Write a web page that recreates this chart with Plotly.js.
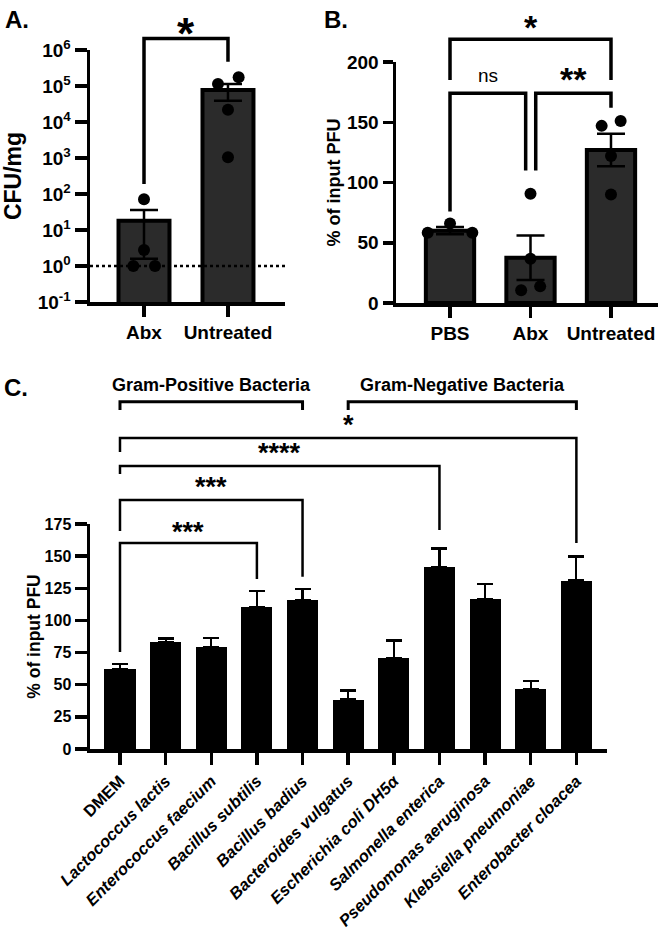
<!DOCTYPE html>
<html><head><meta charset="utf-8">
<script src="https://cdn.plot.ly/plotly-3.0.1.min.js"></script>
<style>html,body{margin:0;padding:0;background:#fff}</style>
</head><body><div id="chart" style="width:666px;height:932px"></div>
<script>
// ---------- Panel A data ----------
const catA = ['Abx', 'Untreated'];
const meanA = [18, 78000];
const errPlusA = [18, 36000];
const errMinusA = [16.4, 39000];
const ptsA = [[72, 2.8, 1, 1], [174000, 114000, 22000, 1050]];
const limitA = 1;
const tickValsA = [0.1, 1, 10, 100, 1000, 10000, 100000, 1000000];
const tickTextA = ['10<sup>-1</sup>', '10<sup>0</sup>', '10<sup>1</sup>', '10<sup>2</sup>', '10<sup>3</sup>', '10<sup>4</sup>', '10<sup>5</sup>', '10<sup>6</sup>'];
const sigA = [{from: 0, to: 1, top: 2.1e6, b0: 190, b1: 4.7e5, label: '*', labelY: 4.4e6}];

// ---------- Panel B data ----------
const catB = ['PBS', 'Abx', 'Untreated'];
const meanB = [60, 37.6, 127];
const semB = [3, 18.5, 13.5];
const ptsB = [[66, 58.3, 58.3], [90.7, 36.8, 10.5, 13.8], [147, 151, 122, 90]];
const sigB = [
  {from: 0, to: 2, top: 219, b0: 185, b1: 185, label: '*', labelY: 232},
  {from: 0, to: 0.94, top: 174, b0: 76, b1: 110, label: 'ns', labelY: 189},
  {from: 1.065, to: 2, top: 174, b0: 110, b1: 162, label: '**', labelY: 189}
];

// ---------- Panel C data ----------
const catC = ['DMEM', 'Lactococcus lactis', 'Enterococcus faecium', 'Bacillus subtilis', 'Bacillus badius',
  'Bacteroides vulgatus', 'Escherichia coli DH5α', 'Salmonella enterica', 'Pseudomonas aeruginosa',
  'Klebsiella pneumoniae', 'Enterobacter cloacea'];
const italicC = [false, true, true, true, true, true, true, true, true, true, true];
const meanC = [62, 83, 79, 110.5, 116, 38.5, 71, 141.5, 116.5, 46.5, 131];
const semC = [4.3, 2.9, 7.3, 12.1, 8.5, 7, 13.4, 14.5, 12, 6.4, 18.7];
const groupsC = [
  {label: 'Gram-Positive Bacteria', from: 0, to: 4, top: 270, leg: 263.7, labelY: 283},
  {label: 'Gram-Negative Bacteria', from: 5, to: 10, top: 270, leg: 263.7, labelY: 283}
];
const sigC = [
  {from: 0, to: 10, top: 241.9, b0: 231, b1: 160.2, label: '*', labelY: 253.6},
  {from: 0, to: 7, top: 220.1, b0: 213.9, b1: 170.3, label: '****', labelY: 231.8},
  {from: 0, to: 4, top: 193.7, b0: 169.6, b1: 134, label: '***', labelY: 206},
  {from: 0, to: 3, top: 160.2, b0: 75.4, b1: 132.2, label: '***', labelY: 171}
];

// ---------- styling / positions (not data) ----------
const jitA = [[0, 0, -0.127, 0.131], [0.127, -0.119, 0, 0]];
const jitB = [[0, -0.277, 0.277], [0, 0, -0.116, 0.12], [-0.116, 0.12, 0, 0]];
const W = 666, H = 932;
const fx = px => px / W, fy = px => 1 - px / H;
const FONT = 'Liberation Sans, Arial, Helvetica, sans-serif';
const idx = arr => arr.map((_, i) => i);
const rangeXA = [-0.643, 1.679];

const traces = [];
const annotations = [];

// detection-limit dotted line (drawn first, bars cover it)
traces.push({type: 'scatter', mode: 'lines', x: rangeXA, y: [limitA, limitA], xaxis: 'x', yaxis: 'y',
  line: {color: '#000', width: 2.5, dash: 'dot'}, hoverinfo: 'skip'});

function barPanel(cats, means, plus, minus, pts, jit, xa, ya, opts) {
  traces.push({
    type: 'bar', x: idx(cats), y: means, width: opts.width, xaxis: xa, yaxis: ya,
    marker: {color: opts.fill, line: {color: '#000', width: opts.lw}},
    error_y: {type: 'data', symmetric: false, array: plus, arrayminus: minus,
      color: '#000', thickness: opts.et, width: opts.ew},
    hoverinfo: 'skip'
  });
  if (pts) {
    const px = [], py = [];
    pts.forEach((g, i) => g.forEach((v, j) => { px.push(i + jit[i][j]); py.push(v); }));
    traces.push({type: 'scatter', mode: 'markers', x: px, y: py, xaxis: xa, yaxis: ya,
      marker: {color: '#000', size: 12}, cliponaxis: false, hoverinfo: 'skip'});
  }
}
function bracket(s, xa, ya, lw) {
  traces.push({type: 'scatter', mode: 'lines', x: [s.from, s.from, s.to, s.to],
    y: [s.b0, s.top, s.top, s.b1], xaxis: xa, yaxis: ya,
    line: {color: '#000', width: lw}, hoverinfo: 'skip'});
}
function label(x, y, text, xa, ya, size, weight, shift) {
  annotations.push({x: x, y: y, xref: xa, yref: ya, text: text, showarrow: false,
    xanchor: 'center', yanchor: 'middle', yshift: shift || 0,
    font: {size: size, weight: weight, family: FONT, color: '#000'}});
}

// Panel A
barPanel(catA, meanA, errPlusA, errMinusA, ptsA, jitA, 'x', 'y',
  {width: 0.607, fill: '#2b2b2b', lw: 4, et: 2.5, ew: 14});
sigA.forEach(s => {
  bracket(s, 'x', 'y4', 3.5);
  label((s.from + s.to) / 2, Math.log10(s.labelY), s.label, 'x', 'y4', 44, 'bold', -7);
});

// Panel B
barPanel(catB, meanB, semB, semB, ptsB, jitB, 'x2', 'y2',
  {width: 0.6, fill: '#2b2b2b', lw: 4, et: 2.5, ew: 14});
sigB.forEach(s => {
  bracket(s, 'x2', 'y5', 3.5);
  const star = s.label.indexOf('*') >= 0;
  label((s.from + s.to) / 2, s.labelY, s.label, 'x2', 'y5', star ? 34 : 19, star ? 'bold' : 'normal', star ? -4 : 0);
});

// Panel C
barPanel(catC, meanC, semC, semC.map(() => 0), null, null, 'x3', 'y3',
  {width: 0.68, fill: '#000', lw: 0, et: 2.2, ew: 8});
groupsC.forEach(g => {
  bracket({from: g.from, to: g.to, top: g.top, b0: g.leg, b1: g.leg}, 'x3', 'y6', 3);
  label((g.from + g.to) / 2, g.labelY, g.label, 'x3', 'y6', 18, 'bold', 0);
});
sigC.forEach(s => {
  bracket(s, 'x3', 'y6', 2.5);
  label((s.from + s.to) / 2, s.labelY, s.label, 'x3', 'y6', 27, 'bold', -2.5);
});

// panel letters
[['A.', 3, 4], ['B.', 322, 4], ['C.', 2, 372]].forEach(p => {
  annotations.push({x: fx(p[1]), y: fy(p[2]), xref: 'paper', yref: 'paper', text: p[0],
    showarrow: false, xanchor: 'left', yanchor: 'top',
    font: {size: 24, weight: 'bold', family: FONT, color: '#000'}});
});

const axBase = {showgrid: false, zeroline: false, showline: true, linecolor: '#000',
  ticks: 'outside', tickcolor: '#000', fixedrange: true};

const layout = {
  width: W, height: H, margin: {l: 0, r: 0, t: 0, b: 0}, showlegend: false,
  paper_bgcolor: '#fff', plot_bgcolor: 'rgba(0,0,0,0)',
  font: {family: FONT, color: '#000'},
  bargap: 0,
  // Panel A
  xaxis: Object.assign({}, axBase, {domain: [fx(90), fx(285)], range: rangeXA, anchor: 'y',
    tickmode: 'array', tickvals: idx(catA), ticktext: catA, linewidth: 3.5, tickwidth: 3.5, ticklen: 11,
    tickfont: {size: 19, weight: 'bold'}}),
  yaxis: Object.assign({}, axBase, {domain: [fy(302), fy(50)], type: 'log', range: [-1, 6], anchor: 'x',
    tickmode: 'array', tickvals: tickValsA, ticktext: tickTextA, linewidth: 3.5, tickwidth: 3.5, ticklen: 12,
    tickfont: {size: 19, weight: 'bold'},
    title: {text: 'CFU/mg', font: {size: 23, weight: 'bold'}, standoff: 12}}),
  yaxis4: {domain: [fy(302), fy(14)], type: 'log', range: [-1, 7], anchor: 'x', visible: false, fixedrange: true},
  // Panel B
  xaxis2: Object.assign({}, axBase, {domain: [fx(396), fx(658)], range: [-0.671, 2.584], anchor: 'y2',
    tickmode: 'array', tickvals: idx(catB), ticktext: catB, linewidth: 3.5, tickwidth: 3.5, ticklen: 11,
    tickfont: {size: 19, weight: 'bold'}}),
  yaxis2: Object.assign({}, axBase, {domain: [fy(303), fy(62)], range: [0, 200], anchor: 'x2',
    tickmode: 'array', tickvals: [0, 50, 100, 150, 200], linewidth: 3.5, tickwidth: 3.5, ticklen: 10,
    tickfont: {size: 19, weight: 'bold'},
    title: {text: '% of input PFU', font: {size: 18, weight: 'bold'}, standoff: 2}}),
  yaxis5: {domain: [fy(303), fy(10)], range: [0, 243.2], anchor: 'x2', visible: false, fixedrange: true},
  // Panel C
  xaxis3: Object.assign({}, axBase, {domain: [fx(90), fx(606.5)], range: [-0.657, 10.66], anchor: 'y3',
    tickmode: 'array', tickvals: idx(catC),
    ticktext: catC.map((c, i) => italicC[i] ? '<i>' + c + '</i>' : c),
    tickangle: -45, linewidth: 4, tickwidth: 3.5, ticklen: 12,
    tickfont: {size: 16.5, weight: 'bold'}}),
  yaxis3: Object.assign({}, axBase, {domain: [fy(749), fy(524)], range: [0, 175], anchor: 'x3',
    tickmode: 'array', tickvals: [0, 25, 50, 75, 100, 125, 150, 175], linewidth: 3.5, tickwidth: 3.5, ticklen: 12,
    tickfont: {size: 16, weight: 'bold'},
    title: {text: '% of input PFU', font: {size: 17.5, weight: 'bold'}, standoff: 0}}),
  yaxis6: {domain: [fy(749), fy(749 - 295 * 225 / 175)], range: [0, 295], anchor: 'x3', visible: false, fixedrange: true},
  annotations: annotations
};

Plotly.newPlot('chart', traces, layout, {staticPlot: true, displayModeBar: false});
</script>
</body></html>
